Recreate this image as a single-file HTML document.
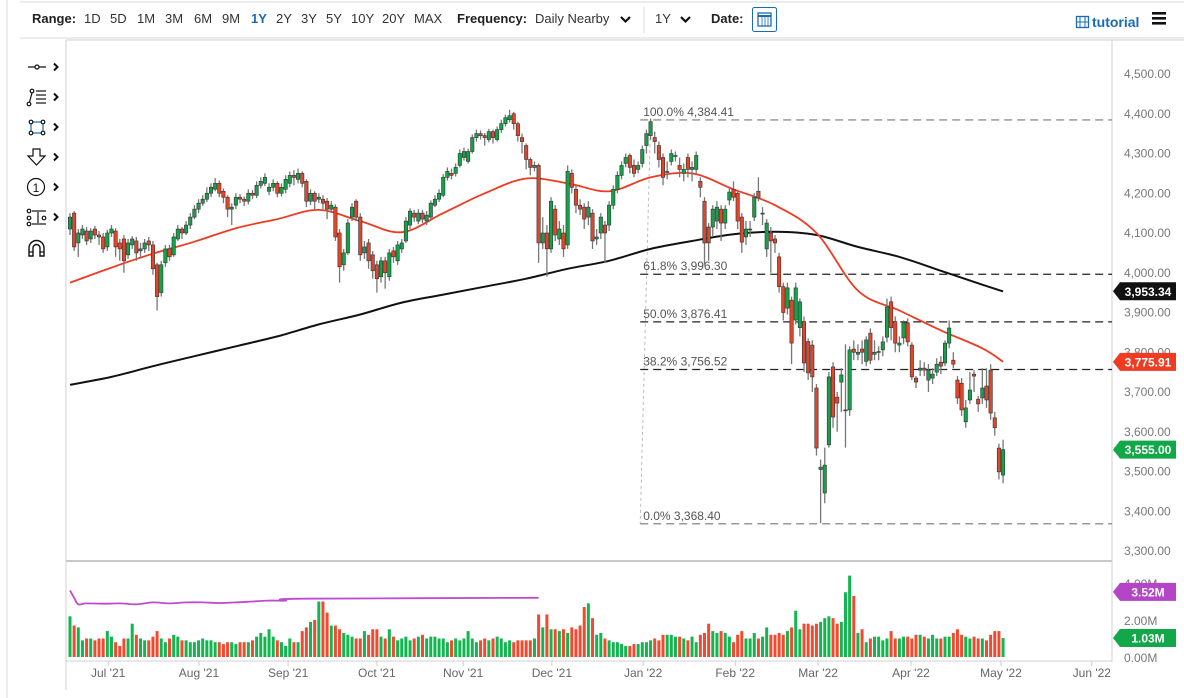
<!DOCTYPE html>
<html><head><meta charset="utf-8"><style>
body{margin:0;background:#fff;font-family:"Liberation Sans",sans-serif;}
svg{display:block}
text{font-family:"Liberation Sans",sans-serif}
</style></head><body>
<svg id="c" width="1184" height="698" viewBox="0 0 1184 698" xmlns="http://www.w3.org/2000/svg">
<rect width="1184" height="698" fill="#fff"/>
<g>
<line x1="7" y1="0" x2="7" y2="698" stroke="#d8d8d8"/>
<line x1="20" y1="2" x2="1184" y2="2" stroke="#d8d8d8"/>
<line x1="20" y1="38" x2="1184" y2="38" stroke="#d8d8d8"/>
<text x="32" y="23" font-size="13" font-weight="bold" fill="#222">Range:</text>
<text x="84" y="23" font-size="13" fill="#333">1D</text>
<text x="110" y="23" font-size="13" fill="#333">5D</text>
<text x="137" y="23" font-size="13" fill="#333">1M</text>
<text x="165" y="23" font-size="13" fill="#333">3M</text>
<text x="194" y="23" font-size="13" fill="#333">6M</text>
<text x="222" y="23" font-size="13" fill="#333">9M</text>
<text x="251" y="23" font-size="13" font-weight="bold" fill="#1a6bb5">1Y</text>
<text x="276" y="23" font-size="13" fill="#333">2Y</text>
<text x="301" y="23" font-size="13" fill="#333">3Y</text>
<text x="326" y="23" font-size="13" fill="#333">5Y</text>
<text x="351" y="23" font-size="13" fill="#333">10Y</text>
<text x="382" y="23" font-size="13" fill="#333">20Y</text>
<text x="414" y="23" font-size="13" fill="#333">MAX</text>
<text x="457" y="23" font-size="13" font-weight="bold" fill="#222">Frequency:</text>
<text x="535" y="23" font-size="13" fill="#333">Daily Nearby</text>
<path d="M621 17 l4.5 4.5 l4.5 -4.5" fill="none" stroke="#111" stroke-width="2.2"/>
<line x1="644" y1="7" x2="644" y2="33" stroke="#d8d8d8"/>
<text x="655" y="23" font-size="13" fill="#333">1Y</text>
<path d="M681 17 l4.5 4.5 l4.5 -4.5" fill="none" stroke="#111" stroke-width="2.2"/>
<text x="711" y="23" font-size="13" font-weight="bold" fill="#222">Date:</text>
<g>
<rect x="752.5" y="7.5" width="24" height="24" rx="2" fill="#fff" stroke="#1a6bb5"/>
<rect x="758" y="13" width="13" height="13" fill="none" stroke="#1a6bb5" stroke-width="1.3"/>
<line x1="758" y1="16" x2="771" y2="16" stroke="#1a6bb5" stroke-width="2"/>
<line x1="762" y1="16" x2="762" y2="26" stroke="#1a6bb5" stroke-width="0.8"/><line x1="765" y1="16" x2="765" y2="26" stroke="#1a6bb5" stroke-width="0.8"/><line x1="768" y1="16" x2="768" y2="26" stroke="#1a6bb5" stroke-width="0.8"/>
</g>
<g>
<rect x="1076.5" y="16.5" width="12" height="11" fill="none" stroke="#1a6bb5" stroke-width="1.3"/>
<line x1="1080" y1="16" x2="1080" y2="28" stroke="#1a6bb5"/><line x1="1085" y1="16" x2="1085" y2="28" stroke="#1a6bb5"/><line x1="1076" y1="22" x2="1089" y2="22" stroke="#1a6bb5"/>
<text x="1092" y="27" font-size="14" font-weight="bold" fill="#1a6bb5">tutorial</text>
</g>
<g>
<rect x="1152" y="12" width="14" height="2.6" fill="#111"/><rect x="1152" y="17" width="14" height="2.6" fill="#111"/><rect x="1152" y="22" width="14" height="2.6" fill="#111"/>
</g>
</g>
<g fill="none" stroke="#111" stroke-width="1.2">
<g><line x1="28" y1="67" x2="46" y2="67"/><circle cx="37" cy="67" r="2" fill="#fff"/><path d="M54 63.5 l3.5 3.5 l-3.5 3.5" stroke-width="2"/></g>
<g><circle cx="29" cy="104" r="1.8"/><circle cx="32" cy="91" r="1.8"/><line x1="29.5" y1="102" x2="32" y2="93"/><line x1="36" y1="91" x2="46" y2="91"/><line x1="36" y1="95" x2="46" y2="95"/><line x1="36" y1="99" x2="46" y2="99"/><line x1="36" y1="103" x2="46" y2="103"/><path d="M54 93.5 l3.5 3.5 l-3.5 3.5" stroke-width="2"/></g>
<g><rect x="31" y="122" width="12" height="11" stroke="#1a6bb5"/><circle cx="31" cy="122" r="1.8" fill="#fff"/><circle cx="43" cy="122" r="1.8" fill="#fff"/><circle cx="31" cy="133" r="1.8" fill="#fff"/><circle cx="43" cy="133" r="1.8" fill="#fff"/><path d="M54 123.5 l3.5 3.5 l-3.5 3.5" stroke-width="2"/></g>
<g><path d="M33 149 h7 v7 h5 l-8.5 9 l-8.5 -9 h5 z"/><path d="M54 153.5 l3.5 3.5 l-3.5 3.5" stroke-width="2"/></g>
<g><circle cx="36" cy="187" r="8.5"/><text x="36" y="192" font-size="12" fill="#111" stroke="none" text-anchor="middle">1</text><path d="M54 183.5 l3.5 3.5 l-3.5 3.5" stroke-width="2"/></g>
<g><circle cx="29" cy="211" r="1.8"/><circle cx="29" cy="218" r="1.8"/><circle cx="29" cy="224" r="1.8"/><line x1="32" y1="211" x2="46" y2="211"/><line x1="32" y1="224" x2="46" y2="224"/><line x1="38" y1="212" x2="38" y2="223"/><circle cx="44" cy="218" r="1.8"/><path d="M54 213.5 l3.5 3.5 l-3.5 3.5" stroke-width="2"/></g>
<g><path d="M29 256 v-8 a7.5 7.5 0 0 1 15 0 v8 h-4 v-8 a3.5 3.5 0 0 0 -7 0 v8 z" stroke-width="1.4"/><line x1="29" y1="252" x2="33" y2="252"/><line x1="40" y1="252" x2="44" y2="252"/></g>
</g>
<line x1="66" y1="40" x2="66" y2="690" stroke="#d0d0d0"/>
<line x1="66" y1="40" x2="1184" y2="40" stroke="#d0d0d0"/>
<line x1="1112" y1="40" x2="1112" y2="662" stroke="#d0d0d0"/>
<line x1="66" y1="561" x2="1112" y2="561" stroke="#c8c8c8" stroke-width="2"/>
<line x1="66" y1="661" x2="1112" y2="661" stroke="#d0d0d0"/>
<g id="layer"></g>
</svg>
<script>
const opens=[4110,4150,4075,4095,4105,4085,4110,4095,4090,4065,4100,4105,4075,4085,4045,4070,4080,4055,4060,4080,4070,4020,3950,4025,4060,4045,4085,4110,4100,4120,4140,4160,4175,4185,4200,4210,4225,4205,4190,4160,4170,4190,4185,4180,4200,4195,4220,4225,4205,4215,4225,4200,4210,4225,4245,4235,4250,4230,4180,4200,4185,4185,4180,4160,4165,4100,4020,4050,4140,4180,4140,4050,4075,4045,4020,3990,4030,3990,4055,4030,4060,4080,4120,4150,4130,4150,4130,4140,4170,4185,4195,4240,4250,4250,4270,4290,4280,4305,4340,4350,4345,4335,4355,4335,4360,4375,4385,4400,4375,4340,4320,4285,4265,4270,4075,4100,4060,4160,4085,4100,4070,4250,4210,4170,4165,4140,4150,4085,4100,4120,4120,4170,4210,4245,4275,4295,4270,4260,4275,4320,4345,4340,4320,4290,4255,4280,4295,4270,4250,4290,4260,4260,4230,4180,4115,4115,4130,4160,4125,4183,4210,4200,4140,4090,4110,4140,4205,4150,4060,4100,4085,4040,3965,3911,3931,3881,3862,3877,3827,3818,3710,3505,3446,3567,3763,3687,3725,3655,3655,3808,3795,3808,3777,3848,3795,3802,3806,3838,3927,3877,3818,3836,3874,3818,3735,3755,3760,3730,3735,3750,3775,3773,3823,3780,3730,3722,3625,3680,3745,3682,3685,3715,3755,3635,3559,3491];
const highs=[4150,4155,4110,4120,4115,4112,4118,4105,4100,4108,4120,4112,4085,4095,4085,4092,4090,4075,4085,4090,4080,4025,4030,4070,4070,4100,4120,4115,4130,4150,4170,4185,4195,4215,4225,4238,4232,4212,4195,4175,4200,4198,4192,4210,4208,4230,4240,4250,4225,4235,4230,4225,4245,4255,4258,4262,4255,4235,4210,4205,4200,4195,4188,4180,4172,4110,4060,4135,4175,4185,4150,4080,4085,4055,4030,4040,4040,4060,4065,4080,4085,4140,4162,4158,4160,4158,4155,4182,4195,4210,4248,4265,4262,4275,4310,4315,4312,4348,4360,4358,4352,4362,4360,4368,4385,4398,4410,4405,4380,4350,4325,4290,4280,4275,4140,4120,4190,4170,4130,4120,4270,4260,4220,4185,4175,4180,4160,4110,4150,4130,4180,4220,4255,4280,4300,4300,4285,4280,4320,4360,4388,4355,4330,4300,4280,4310,4305,4290,4275,4300,4280,4305,4240,4190,4125,4170,4180,4170,4170,4215,4230,4205,4150,4130,4130,4200,4240,4165,4135,4115,4095,4050,3975,3975,3940,3975,3935,3890,3835,3830,3720,3530,3560,3750,3775,3700,3760,3820,3815,3830,3820,3830,3840,3860,3830,3815,3840,3935,3940,3890,3840,3880,3885,3825,3740,3780,3775,3770,3760,3785,3790,3830,3880,3800,3740,3735,3680,3750,3755,3690,3760,3760,3770,3650,3570,3580];
const lows=[4095,4055,4040,4085,4070,4075,4085,4070,4050,4055,4090,4040,4030,4000,4035,4060,4030,4040,4050,4055,3995,3905,3940,4015,4030,4040,4080,4085,4095,4110,4135,4150,4168,4178,4190,4205,4190,4175,4140,4120,4160,4175,4168,4172,4185,4188,4212,4218,4195,4205,4190,4192,4200,4215,4220,4225,4215,4165,4170,4160,4175,4160,4135,4150,4080,3975,4005,4045,4130,4130,4030,4035,4010,3985,3950,3975,3960,3980,4025,4020,4050,4075,4110,4128,4122,4125,4120,4135,4165,4178,4190,4232,4235,4242,4265,4282,4275,4300,4330,4335,4320,4328,4325,4330,4352,4368,4378,4360,4330,4300,4260,4245,4255,4025,4060,3990,4050,4080,4070,4040,4060,4200,4150,4145,4110,4120,4060,4070,4085,4025,4105,4160,4200,4235,4265,4250,4240,4250,4265,4300,4335,4300,4265,4220,4235,4270,4280,4240,4230,4240,4230,4250,4190,4020,4030,4090,4110,4080,4110,4170,4180,4110,4050,4070,4090,4130,4180,4120,4040,4000,4050,3950,3880,3895,3770,3870,3840,3750,3730,3700,3540,3370,3420,3560,3610,3600,3650,3560,3640,3780,3780,3770,3765,3770,3780,3780,3790,3825,3830,3800,3800,3820,3815,3730,3710,3740,3740,3700,3720,3740,3745,3765,3810,3760,3670,3640,3610,3670,3700,3650,3670,3660,3630,3590,3480,3470];
const closes=[4140,4065,4100,4110,4080,4105,4095,4090,4060,4100,4110,4065,4060,4030,4075,4085,4050,4060,4075,4070,4010,3940,4020,4060,4040,4090,4110,4100,4120,4140,4160,4175,4185,4200,4215,4225,4200,4190,4160,4165,4190,4185,4180,4200,4195,4220,4230,4240,4215,4225,4200,4215,4235,4245,4240,4250,4225,4180,4200,4180,4190,4175,4160,4170,4090,4015,4050,4125,4165,4140,4045,4065,4030,4005,3985,4030,4000,4050,4040,4070,4075,4130,4155,4140,4150,4135,4145,4175,4185,4200,4240,4255,4245,4265,4300,4305,4305,4340,4350,4345,4340,4355,4340,4360,4375,4390,4395,4375,4345,4330,4285,4265,4270,4075,4100,4060,4180,4095,4110,4060,4255,4215,4170,4160,4135,4165,4080,4090,4140,4100,4170,4210,4245,4270,4290,4265,4250,4270,4310,4350,4380,4330,4285,4240,4255,4300,4295,4260,4260,4260,4265,4295,4215,4075,4075,4160,4165,4125,4160,4203,4190,4130,4077,4110,4110,4190,4188,4150,4125,4080,4075,3965,3900,3962,3823,3962,3927,3773,3748,3738,3559,3511,3516,3738,3637,3672,3743,3655,3806,3800,3800,3800,3831,3780,3800,3802,3826,3914,3862,3823,3823,3874,3826,3738,3725,3760,3755,3755,3745,3770,3765,3823,3861,3770,3685,3655,3660,3705,3740,3670,3710,3680,3647,3610,3499,3555];
const volumes=[2.2,1.7,1.6,0.9,1.0,1.0,0.9,1.0,1.0,1.4,1.1,0.8,0.6,1.0,1.0,1.8,1.2,1.0,0.9,0.9,1.1,1.4,1.0,0.8,1.0,1.2,1.1,0.9,0.9,0.8,0.8,0.9,1.0,0.9,0.9,0.8,0.8,0.7,0.8,0.8,0.7,0.8,0.8,0.8,0.9,1.1,1.3,1.1,1.5,1.1,0.9,0.8,0.6,1.0,0.8,0.8,1.4,1.6,1.9,2.0,3.0,3.0,2.4,1.7,1.7,1.5,1.3,1.2,1.1,1.0,1.0,1.4,1.2,1.5,1.5,1.1,1.0,1.5,1.1,0.9,1.0,1.1,0.9,1.0,1.1,1.2,1.0,1.1,1.1,1.0,1.0,0.8,0.9,1.0,0.9,1.0,1.4,1.0,0.8,0.9,1.0,0.9,1.0,1.1,1.0,0.8,0.9,0.8,0.9,0.9,0.9,0.9,1.0,2.3,1.6,2.3,1.5,1.5,1.4,1.5,1.3,1.6,1.5,1.7,2.7,2.9,2.1,1.2,1.3,1.0,0.9,0.8,0.8,0.7,0.6,0.6,0.7,0.7,0.8,0.8,0.9,1.0,0.9,1.2,1.2,1.2,1.1,1.1,1.0,0.9,1.1,0.8,1.2,1.3,1.8,1.4,1.3,1.4,1.3,1.1,0.8,1.2,1.4,1.0,1.0,1.3,1.0,1.1,1.6,1.2,1.2,1.3,1.2,1.4,1.6,2.5,1.5,1.8,1.8,1.7,1.8,1.9,2.1,2.2,2.1,1.8,1.9,3.5,4.4,3.3,1.3,1.5,0.8,1.0,1.1,1.1,0.9,1.0,1.4,1.0,1.0,1.1,1.1,1.0,1.2,1.2,1.1,1.0,1.2,1.0,1.0,1.1,1.1,1.3,1.5,1.2,1.1,1.0,1.1,1.0,1.0,0.9,1.2,1.4,1.4,1.03];
const ma50Idx=[0,10,20,30,40,50,60,70,80,90,100,110,120,130,140,150,160,170,180,190,200,210,220,225];
const ma50Val=[3975,4013,4048,4078,4112,4135,4158,4130,4102,4150,4200,4237,4225,4205,4240,4250,4210,4170,4100,3955,3905,3855,3810,3776];
const ma200Idx=[0,10,20,30,40,50,60,70,80,90,100,110,120,130,140,150,160,170,180,190,200,210,220,225];
const ma200Val=[3718,3738,3765,3790,3815,3840,3870,3895,3925,3945,3965,3985,4010,4030,4060,4080,4097,4103,4095,4065,4040,4005,3970,3953];
const oiIdx=[0,1,2,4,8,12,16,20,24,28,32,36,40,44,48,52,56,113];
const oiVal=[3.6,3.2,2.85,2.9,2.88,2.9,2.85,2.95,2.9,2.95,2.95,2.92,2.95,3.0,3.05,3.05,3.15,3.2];
const fibPct=["100.0%","61.8%","50.0%","38.2%","0.0%"];
const fibVal=[4384.41,3996.30,3876.41,3756.52,3368.40];
const priceTicks=[4500,4400,4300,4200,4100,4000,3900,3800,3700,3600,3500,3400,3300];
const volTicks=[0,2,4];
const monthLabels=["Jul '21","Aug '21","Sep '21","Oct '21","Nov '21","Dec '21","Jan '22","Feb '22","Mar '22","Apr '22","May '22","Jun '22"];
const monthIdx=[9.2,31.1,52.6,74,94.8,116.2,138.2,160.4,180.4,202.8,224.5,246.4];
const fibStartIdx=137.5, fibPeakIdx=140;
const lastMa200=3953.34, lastMa50=3775.91, lastClose=3555.00, lastOi=3.52, lastVol=1.03;

const X0=70, DX=4.147;
const xs=i=>X0+i*DX;
const ys=v=>74+(4500-v)*0.3975;
const vys=m=>657-m*18.5;
const NS="http://www.w3.org/2000/svg";
const layer=document.getElementById('layer');
function mk(tag,attrs,parent){const e=document.createElementNS(NS,tag);for(const k in attrs)e.setAttribute(k,attrs[k]);(parent||layer).appendChild(e);return e;}
const fmt=v=>v.toLocaleString('en-US',{minimumFractionDigits:2,maximumFractionDigits:2});

priceTicks.forEach(v=>{
  const t=mk('text',{x:1124,y:ys(v)+4,'font-size':12,fill:'#777'});
  t.textContent=fmt(v);
  
  
});
volTicks.forEach(m=>{
  const t=mk('text',{x:1124,y:vys(m)+5,'font-size':12,fill:'#777'});
  t.textContent=m.toFixed(2)+'M';
  
  
});
monthLabels.forEach((lab,k)=>{
  const x=xs(monthIdx[k]);
  const tk=mk('line',{x1:x,y1:661,x2:x,y2:666,stroke:'#ccc'});
  
  
  const t=mk('text',{x:x,y:677,'font-size':12,fill:'#666','text-anchor':'middle'});
  t.textContent=lab;
  
  
});

const peakX=xs(fibPeakIdx), startX=xs(fibStartIdx);
const diag=mk('line',{x1:peakX,y1:ys(fibVal[0]),x2:startX,y2:ys(fibVal[4]),stroke:'#bbb','stroke-dasharray':'3,3'});


fibVal.forEach((v,k)=>{
  const y=ys(v);
  const dark=(k>=1&&k<=3);
  const l=mk('line',{x1:startX,y1:y,x2:1112,y2:y,stroke:dark?'#222':'#777','stroke-dasharray':'8,5','stroke-width':1.2});
  
  
  const t=mk('text',{x:startX+3,y:y-4,'font-size':12,fill:'#555'});
  t.textContent=fibPct[k]+' '+fmt(v);
  
  
});

function smooth(idx,val,fy){
  const p=idx.map((i,k)=>[xs(i),fy(val[k])]);
  let d='M'+p[0][0].toFixed(1)+','+p[0][1].toFixed(1);
  for(let k=0;k<p.length-1;k++){
    const p0=p[Math.max(0,k-1)],p1=p[k],p2=p[k+1],p3=p[Math.min(p.length-1,k+2)];
    const c1x=p1[0]+(p2[0]-p0[0])/6,c1y=p1[1]+(p2[1]-p0[1])/6;
    const c2x=p2[0]-(p3[0]-p1[0])/6,c2y=p2[1]-(p3[1]-p1[1])/6;
    d+=` C${c1x.toFixed(1)},${c1y.toFixed(1)} ${c2x.toFixed(1)},${c2y.toFixed(1)} ${p2[0].toFixed(1)},${p2[1].toFixed(1)}`;
  }
  return d;
}
const m200=mk('path',{d:smooth(ma200Idx,ma200Val,ys),fill:'none',stroke:'#111','stroke-width':2});


const m50=mk('path',{d:smooth(ma50Idx,ma50Val,ys),fill:'none',stroke:'#ee3b22','stroke-width':1.8});



closes.forEach((c,i)=>{
  const o=opens[i],x=xs(i),up=c>=o;
  const w=mk('line',{x1:x,y1:ys(highs[i]),x2:x,y2:ys(lows[i]),stroke:'#777','stroke-width':1.3});
  
  
  const top=ys(Math.max(o,c)),bot=ys(Math.min(o,c));
  const b=mk('rect',{x:x-1.7,y:top,width:3.4,height:Math.max(1,bot-top),fill:up?'#14a14a':'#e0462b',stroke:'#333','stroke-width':0.6});
  
  
});

volumes.forEach((v,i)=>{
  const x=xs(i),up=closes[i]>=opens[i];
  const r=mk('rect',{x:x-1.5,y:vys(v),width:3,height:v*18.5,fill:up?'#13b550':'#f24a30'});
  
  
});
const oi=mk('path',{d:smooth(oiIdx,oiVal,vys),fill:'none',stroke:'#c04ad0','stroke-width':1.8});



function tag(y,label,color,name){
  const g=mk('g',{});
  
  
  mk('path',{d:`M1113 ${y} l7 -9 h56 v18 h-56 z`,fill:color},g);
  const t=mk('text',{x:1148,y:y+4.5,'font-size':12,'font-weight':'bold',fill:'#fff','text-anchor':'middle'},g);
  t.textContent=label;
}
tag(ys(lastMa200),fmt(lastMa200),'#111','ma200-value-tag');
tag(ys(lastMa50),fmt(lastMa50),'#ee3b22','ma50-value-tag');
tag(ys(lastClose),fmt(lastClose),'#12a84a','last-price-tag');
tag(vys(lastOi),lastOi.toFixed(2)+'M','#b444c8','open-interest-tag');
tag(vys(lastVol),lastVol.toFixed(2)+'M','#12a84a','volume-value-tag');
</script>
</body></html>
